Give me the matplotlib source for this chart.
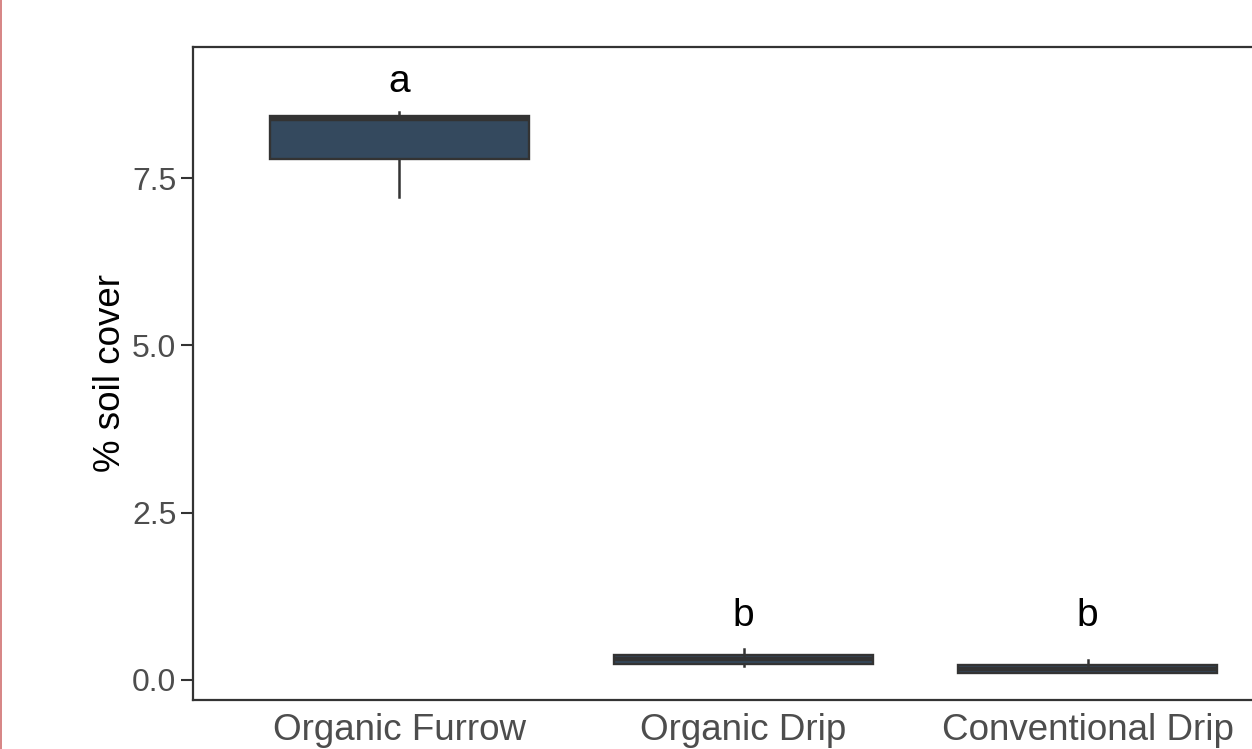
import matplotlib
matplotlib.use("Agg")
import matplotlib.pyplot as plt
from matplotlib.lines import Line2D

plt.rcParams['font.family'] = ['Liberation Sans', 'DejaVu Sans']

categories = ["Organic Furrow", "Organic Drip", "Conventional Drip"]
whislo = [7.22, 0.21, 0.10]
q1 = [7.79, 0.24, 0.11]
med = [8.38, 0.32, 0.17]
q3 = [8.43, 0.38, 0.22]
whishi = [8.48, 0.46, 0.30]
letters = ["a", "b", "b"]
letter_y = [8.79, 0.80, 0.80]
yticks = [0.0, 2.5, 5.0, 7.5]
ytick_labels = ["0.0", "2.5", "5.0", "7.5"]

W, H = 1252, 749
fig = plt.figure(figsize=(W / 100, H / 100), dpi=100)
left, right, top, bottom = 193, 1294, 47, 700
ax = fig.add_axes([left / W, 1 - bottom / H, (right - left) / W, (bottom - top) / H])

stats = []
for i, c in enumerate(categories):
    stats.append(dict(label=c, whislo=whislo[i], q1=q1[i], med=med[i],
                      q3=q3[i], whishi=whishi[i], fliers=[]))

edge = "#333333"
ax.bxp(stats, positions=[1, 2, 3], widths=0.755, patch_artist=True,
       showfliers=False, showcaps=False,
       boxprops=dict(facecolor="#34495E", edgecolor=edge, linewidth=1.7),
       medianprops=dict(color=edge, linewidth=3.2, solid_capstyle='butt'),
       whiskerprops=dict(color=edge, linewidth=1.8))

for i, (t, y) in enumerate(zip(letters, letter_y)):
    ax.text(i + 1, y, t, ha="center", va="baseline", fontsize=28, color="black")

ax.set_xlim(0.4, 3.6)
ax.set_ylim(-0.299, 9.458)
ax.set_yticks(yticks)
ax.set_yticklabels(ytick_labels)
ax.set_xticks([1, 2, 3])
ax.set_xticklabels(categories)

ax.tick_params(axis="y", length=9, width=1.5, color=edge, labelsize=23,
               labelcolor="#4D4D4D", pad=3)
ax.tick_params(axis="x", length=0, labelsize=26.5, labelcolor="#4D4D4D", pad=9.5)
for s in ax.spines.values():
    s.set_color(edge)
    s.set_linewidth(1.6)

ax.set_ylabel("% soil cover", fontsize=26.5, color="black", labelpad=3)

fig.add_artist(Line2D([0.8 / W, 0.8 / W], [0, 1], transform=fig.transFigure,
                      color="#D07070", linewidth=1.2))

fig.savefig("out.png", dpi=100)
